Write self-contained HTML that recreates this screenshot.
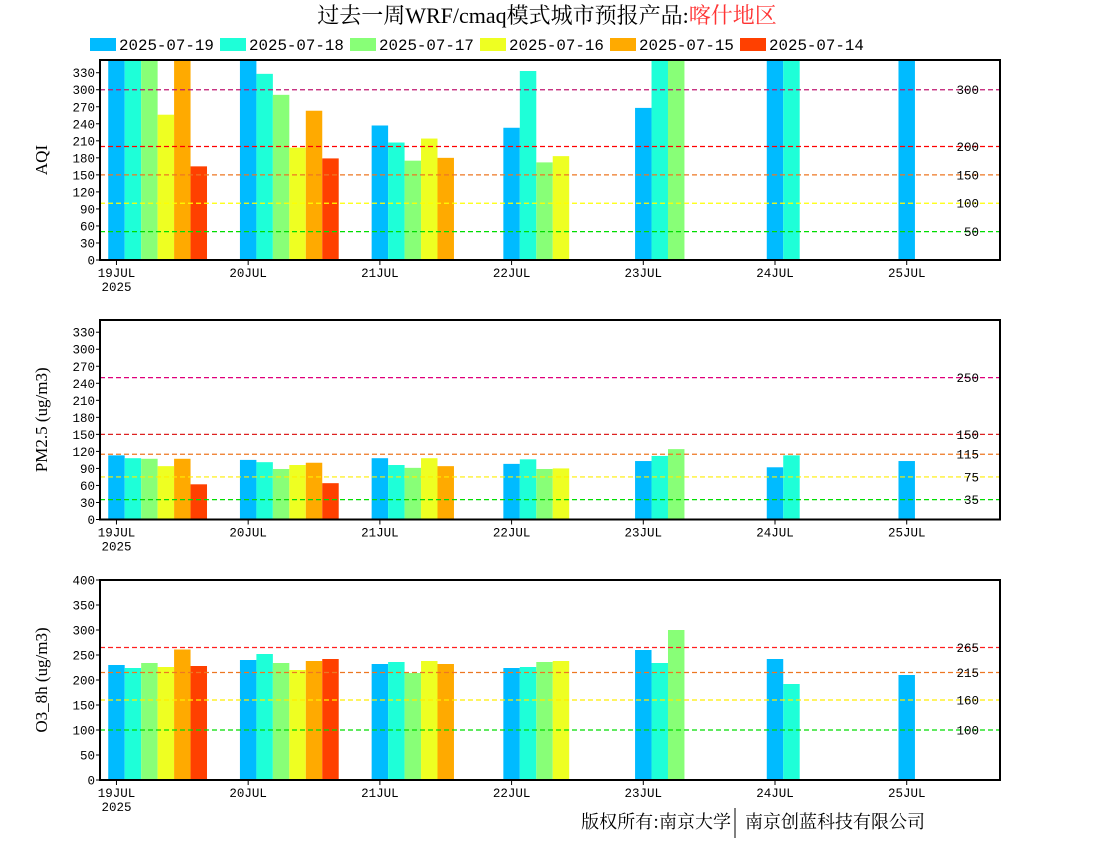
<!DOCTYPE html>
<html><head><meta charset="utf-8">
<style>
html,body{margin:0;padding:0;background:#fff;}
svg{display:block;}
text{font-family:"Liberation Mono","Noto Sans CJK SC",monospace;}
</style></head>
<body>
<svg id="chart" width="1100" height="850" viewBox="0 0 1100 850" xmlns="http://www.w3.org/2000/svg">
<text x="547" y="23" text-anchor="middle" font-size="22" style="font-family:'Liberation Serif','Noto Serif CJK SC',serif">过去一周WRF/cmaq模式城市预报产品:<tspan fill="#ff3333">喀什地区</tspan></text>
<g id="legend"></g>
<g id="panels"></g>
<text x="731" y="828" text-anchor="end" font-size="18" style="font-family:'Noto Serif CJK SC','Noto Sans CJK SC',serif">版权所有:南京大学</text>
<line x1="735" y1="808" x2="735" y2="838" stroke="#000" stroke-width="1"/>
<text x="745" y="828" font-size="18" style="font-family:'Noto Serif CJK SC','Noto Sans CJK SC',serif">南京创蓝科技有限公司</text>
</svg>
<script>
const days = ["19JUL","20JUL","21JUL","22JUL","23JUL","24JUL","25JUL"];
const seriesNames = ["2025-07-19","2025-07-18","2025-07-17","2025-07-16","2025-07-15","2025-07-14"];
const seriesColors = ["#00bbff","#1effd8","#88ff77","#eeff22","#ffaa00","#ff4000"];
// AQI values per series, per day (null = no bar)
const aqi19 = [400,400,237,233,268,400,400];
const aqi18 = [400,328,207,333,400,400,null];
const aqi17 = [400,291,175,172,400,null,null];
const aqi16 = [256,198,214,183,null,null,null];
const aqi15 = [400,263,180,null,null,null,null];
const aqi14 = [165,179,null,null,null,null,null];
const pm19 = [113,105,108,98,103,92,103];
const pm18 = [108,101,96,106,112,113,null];
const pm17 = [107,89,91,89,124,null,null];
const pm16 = [94,96,108,90,null,null,null];
const pm15 = [107,100,94,null,null,null,null];
const pm14 = [62,64,null,null,null,null,null];
const o319 = [230,240,232,224,260,242,210];
const o318 = [224,252,236,226,234,192,null];
const o317 = [234,234,214,236,300,null,null];
const o316 = [226,220,238,238,null,null,null];
const o315 = [261,238,232,null,null,null,null];
const o314 = [228,242,null,null,null,null,null];
const aqiTicks = [0,30,60,90,120,150,180,210,240,270,300,330];
const pmTicks = [0,30,60,90,120,150,180,210,240,270,300,330];
const o3Ticks = [0,50,100,150,200,250,300,350,400];
const aqiLevels = [300,200,150,100,50];
const aqiLevelColors = ["#c01870","#ff0000","#ee7722","#ffff00","#00dd00"];
const pmLevels = [250,150,115,75,35];
const pmLevelColors = ["#e0007a","#dd2222","#ee7722","#ffee00","#00dd00"];
const o3Levels = [265,215,160,100];
const o3LevelColors = ["#ff2020","#ee7722","#ffee00","#00dd00"];

const NS="http://www.w3.org/2000/svg";
const svg=document.getElementById('chart');
function mk(tag,attrs,parent){const e=document.createElementNS(NS,tag);for(const k in attrs)e.setAttribute(k,attrs[k]);(parent||svg).appendChild(e);return e;}

// legend
const lg=document.getElementById('legend');
seriesNames.forEach((n,i)=>{
  const x=90+i*130;
  const r=mk('rect',{x:x,y:38,width:26,height:13,fill:seriesColors[i]},lg);
  
  
  const t=mk('text',{x:x+29,y:50,'font-size':15.8},lg);
  
  
  t.textContent=n;
});

const X0=100,X1=1000,HOUR=900/164;
function xDay(d,hourOffset){return X0+(3+d*24+hourOffset)*HOUR;}

function panel(opt){
  const g=mk('g',{},document.getElementById('panels'));
  
  
  const top=opt.top,bot=opt.bot;
  const y=v=>bot-(v/opt.max)*(bot-top);
  const cid='clip-'+opt.name;
  const cp=mk('clipPath',{id:cid},g);mk('rect',{x:X0,y:top,width:X1-X0,height:bot-top},cp);
  const bars=mk('g',{'clip-path':'url(#'+cid+')'},g);
  opt.series.forEach((arr,si)=>{
    arr.forEach((v,di)=>{
      if(v==null)return;
      const cx=xDay(di,si*3);
      const r=mk('rect',{x:cx-1.5*HOUR,y:y(v),width:3*HOUR,height:bot-y(v),fill:seriesColors[si]},bars);
      
      
    });
  });
  opt.levels.forEach((lv,i)=>{
    const l=mk('line',{x1:X0,x2:X1,y1:y(lv),y2:y(lv),stroke:opt.levelColors[i],'stroke-width':1.2,'stroke-dasharray':'5,3'},g);
    
    
    const t=mk('text',{x:979,y:y(lv)+4.5,'text-anchor':'end','font-size':12.5},g);
    
    
    t.textContent=lv;
  });
  opt.ticks.forEach(tv=>{
    mk('line',{x1:X0-4,x2:X0,y1:y(tv),y2:y(tv),stroke:'#000','stroke-width':1},g);
    const t=mk('text',{x:X0-5,y:y(tv)+4.5,'text-anchor':'end','font-size':12.5},g);
    
    
    t.textContent=tv;
  });
  days.forEach((d,di)=>{
    const xx=xDay(di,0);
    mk('line',{x1:xx,x2:xx,y1:bot,y2:bot+5,stroke:'#000','stroke-width':1},g);
    const t=mk('text',{x:xx,y:bot+17,'text-anchor':'middle','font-size':12.5},g);
    
    
    t.textContent=d;
  });
  const yr=mk('text',{x:xDay(0,0),y:bot+31,'text-anchor':'middle','font-size':12.5},g);
  
  
  yr.textContent='2025';
  const fr=mk('rect',{x:X0,y:top,width:X1-X0,height:bot-top,fill:'none',stroke:'#000','stroke-width':2},g);
  
  
  const cy=(top+bot)/2;
  const at=mk('text',{x:47,y:cy,'text-anchor':'middle','font-size':17,transform:'rotate(-90 47 '+cy+')',style:"font-family:'Liberation Serif',serif"},g);
  
  
  at.textContent=opt.title;
}
panel({name:'aqi-panel',short:'aqi',top:60,bot:260,max:352.4,ticks:aqiTicks,levels:aqiLevels,levelColors:aqiLevelColors,series:[aqi19,aqi18,aqi17,aqi16,aqi15,aqi14],title:'AQI'});
panel({name:'pm25-panel',short:'pm25',top:320,bot:519.5,max:351.5,ticks:pmTicks,levels:pmLevels,levelColors:pmLevelColors,series:[pm19,pm18,pm17,pm16,pm15,pm14],title:'PM2.5 (ug/m3)'});
panel({name:'o3-panel',short:'o3',top:580,bot:780,max:400,ticks:o3Ticks,levels:o3Levels,levelColors:o3LevelColors,series:[o319,o318,o317,o316,o315,o314],title:'O3_8h (ug/m3)'});
</script>
</body></html>
